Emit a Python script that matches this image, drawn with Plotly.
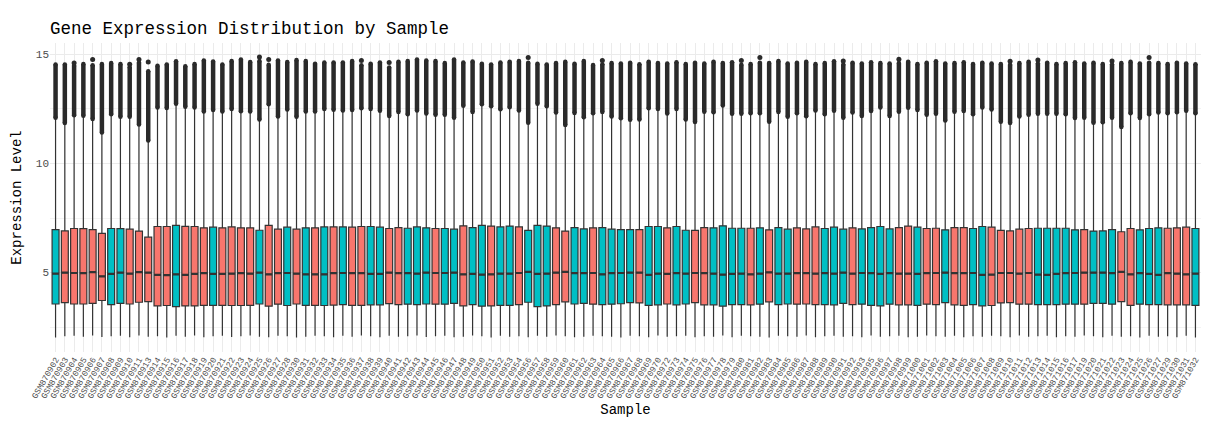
import plotly.graph_objects as go

# Prover (x-axel), i ordning
samples = [
    "GSM870902", "GSM870903", "GSM870904", "GSM870905", "GSM870906", "GSM870907", "GSM870908", "GSM870909",
    "GSM870910", "GSM870911", "GSM870913", "GSM870914", "GSM870915", "GSM870916", "GSM870917", "GSM870918",
    "GSM870919", "GSM870920", "GSM870921", "GSM870922", "GSM870923", "GSM870924", "GSM870925", "GSM870926",
    "GSM870927", "GSM870928", "GSM870930", "GSM870931", "GSM870932", "GSM870933", "GSM870934", "GSM870935",
    "GSM870936", "GSM870937", "GSM870938", "GSM870939", "GSM870940", "GSM870941", "GSM870942", "GSM870943",
    "GSM870944", "GSM870945", "GSM870946", "GSM870947", "GSM870948", "GSM870949", "GSM870950", "GSM870951",
    "GSM870952", "GSM870953", "GSM870954", "GSM870956", "GSM870957", "GSM870958", "GSM870959", "GSM870960",
    "GSM870961", "GSM870962", "GSM870963", "GSM870964", "GSM870965", "GSM870966", "GSM870967", "GSM870968",
    "GSM870969", "GSM870970", "GSM870972", "GSM870973", "GSM870974", "GSM870975", "GSM870976", "GSM870977",
    "GSM870978", "GSM870979", "GSM870980", "GSM870981", "GSM870982", "GSM870983", "GSM870984", "GSM870985",
    "GSM870986", "GSM870987", "GSM870988", "GSM870989", "GSM870990", "GSM870991", "GSM870992", "GSM870993",
    "GSM870995", "GSM870996", "GSM870997", "GSM870998", "GSM870999", "GSM871000", "GSM871001", "GSM871002",
    "GSM871003", "GSM871004", "GSM871005", "GSM871006", "GSM871007", "GSM871008", "GSM871009", "GSM871010",
    "GSM871011", "GSM871012", "GSM871013", "GSM871014", "GSM871015", "GSM871016", "GSM871017", "GSM871019",
    "GSM871020", "GSM871021", "GSM871022", "GSM871023", "GSM871024", "GSM871025", "GSM871026", "GSM871027",
    "GSM871029", "GSM871030", "GSM871031", "GSM871032",
]

# Grupp per prov (A = röd, B = turkos)
group = [
    "B", "A", "A", "A", "A", "A", "B", "B", "A", "A",
    "A", "A", "A", "B", "A", "A", "A", "B", "A", "A",
    "A", "A", "B", "A", "A", "B", "A", "B", "A", "B",
    "A", "B", "A", "A", "B", "B", "A", "A", "B", "B",
    "B", "A", "B", "B", "A", "B", "B", "A", "B", "B",
    "A", "B", "B", "B", "A", "A", "B", "B", "A", "B",
    "B", "B", "B", "A", "B", "B", "A", "B", "B", "A",
    "A", "B", "B", "B", "B", "A", "B", "A", "B", "B",
    "A", "A", "A", "B", "B", "B", "A", "B", "B", "B",
    "B", "A", "A", "B", "A", "A", "B", "A", "A", "B",
    "B", "A", "A", "A", "A", "A", "B", "B", "B", "B",
    "B", "A", "B", "B", "B", "A", "A", "B", "B", "B",
    "A", "A", "A", "B",
]

q1 = [
    3.56, 3.62, 3.56, 3.56, 3.59, 3.72, 3.53, 3.59, 3.56, 3.64,
    3.67, 3.47, 3.49, 3.44, 3.47, 3.47, 3.50, 3.50, 3.50, 3.49,
    3.49, 3.50, 3.56, 3.46, 3.55, 3.49, 3.56, 3.50, 3.50, 3.49,
    3.51, 3.53, 3.50, 3.50, 3.52, 3.52, 3.58, 3.53, 3.55, 3.53,
    3.56, 3.55, 3.55, 3.59, 3.47, 3.53, 3.46, 3.47, 3.50, 3.50,
    3.53, 3.64, 3.44, 3.47, 3.53, 3.66, 3.56, 3.59, 3.55, 3.53,
    3.55, 3.57, 3.62, 3.61, 3.50, 3.52, 3.56, 3.52, 3.56, 3.62,
    3.52, 3.52, 3.46, 3.53, 3.53, 3.52, 3.55, 3.66, 3.53, 3.56,
    3.55, 3.56, 3.53, 3.53, 3.52, 3.59, 3.53, 3.55, 3.50, 3.47,
    3.55, 3.52, 3.52, 3.50, 3.55, 3.53, 3.62, 3.52, 3.50, 3.53,
    3.47, 3.49, 3.61, 3.62, 3.55, 3.55, 3.53, 3.53, 3.53, 3.55,
    3.55, 3.55, 3.59, 3.59, 3.55, 3.67, 3.50, 3.55, 3.53, 3.53,
    3.52, 3.52, 3.52, 3.50,
]

median = [
    4.95, 5.00, 4.98, 4.97, 5.02, 4.83, 4.94, 5.00, 4.95, 5.02,
    5.00, 4.89, 4.88, 4.92, 4.89, 4.94, 4.97, 4.94, 4.94, 4.95,
    4.97, 4.95, 5.00, 4.92, 4.97, 4.98, 4.95, 4.92, 4.92, 4.92,
    4.97, 4.98, 4.97, 4.97, 4.94, 4.94, 5.00, 4.97, 4.97, 4.95,
    5.00, 4.98, 4.98, 5.00, 4.92, 4.94, 4.91, 4.92, 4.95, 4.95,
    4.98, 5.03, 4.94, 4.95, 5.00, 5.03, 4.97, 4.97, 4.98, 4.92,
    4.97, 4.98, 5.00, 5.00, 4.89, 4.95, 4.94, 4.97, 4.95, 4.98,
    4.97, 4.95, 4.91, 4.94, 4.95, 4.92, 4.95, 5.01, 4.95, 4.95,
    4.97, 4.97, 4.95, 4.97, 4.95, 5.00, 4.95, 4.98, 4.97, 4.94,
    4.97, 4.95, 4.95, 4.94, 4.97, 4.98, 5.00, 4.97, 4.97, 4.98,
    4.89, 4.91, 4.98, 4.98, 4.95, 4.98, 4.91, 4.89, 4.94, 4.97,
    4.98, 5.00, 5.00, 5.00, 4.97, 5.03, 4.92, 4.97, 4.94, 4.89,
    4.97, 4.95, 4.92, 4.95,
]

q3 = [
    6.97, 6.91, 7.02, 7.01, 6.97, 6.80, 7.02, 7.01, 6.99, 6.90,
    6.62, 7.11, 7.11, 7.16, 7.12, 7.11, 7.05, 7.08, 7.05, 7.09,
    7.05, 7.05, 6.94, 7.16, 6.99, 7.08, 6.99, 7.05, 7.05, 7.09,
    7.09, 7.09, 7.08, 7.11, 7.11, 7.08, 7.02, 7.06, 7.03, 7.09,
    7.05, 7.02, 7.02, 6.99, 7.14, 7.06, 7.16, 7.13, 7.09, 7.13,
    7.09, 6.93, 7.16, 7.13, 7.05, 6.90, 7.06, 7.00, 7.05, 7.06,
    6.99, 6.97, 6.97, 6.97, 7.11, 7.11, 7.05, 7.11, 6.94, 6.93,
    7.06, 7.05, 7.14, 7.03, 7.03, 7.03, 7.05, 6.96, 7.06, 6.99,
    7.05, 7.00, 7.09, 7.02, 7.08, 6.99, 7.05, 7.00, 7.06, 7.11,
    7.00, 7.06, 7.13, 7.08, 7.02, 7.03, 6.96, 7.06, 7.06, 7.02,
    7.11, 7.08, 6.93, 6.91, 6.99, 7.02, 7.03, 7.03, 7.03, 7.03,
    6.96, 6.97, 6.90, 6.91, 6.97, 6.87, 7.02, 6.96, 7.02, 7.05,
    7.03, 7.05, 7.08, 7.02,
]

# Nedre morrhår (min)
whisker_low = [
    2.02, 2.08, 2.10, 2.06, 2.12, 2.05, 2.08, 2.10, 2.04, 2.12,
    2.06, 2.08, 2.02, 2.10, 2.06, 2.12, 2.04, 2.08, 2.10, 2.05,
    2.08, 2.12, 2.06, 2.04, 2.10, 2.08, 2.02, 2.06, 2.10, 2.08,
    2.04, 2.10, 2.06, 2.12, 2.08, 2.04, 2.10, 2.06, 2.08, 2.12,
    2.05, 2.08, 2.10, 2.04, 2.06, 2.12, 2.08, 2.02, 2.10, 2.06,
    2.08, 2.04, 2.10, 2.06, 2.12, 2.08, 2.04, 2.06, 2.10, 2.08,
    2.06, 2.02, 2.10, 2.08, 2.04, 2.12, 2.06, 2.08, 2.10, 2.04,
    2.08, 2.06, 2.12, 2.04, 2.10, 2.08, 2.06, 2.02, 2.10, 2.08,
    2.06, 2.12, 2.04, 2.08, 2.10, 2.06, 2.08, 2.04, 2.12, 2.06,
    2.08, 2.10, 2.04, 2.06, 2.12, 2.08, 2.06, 2.10, 2.04, 2.08,
    2.06, 2.10, 2.08, 2.04, 2.12, 2.06, 2.08, 2.10, 2.04, 2.08,
    2.06, 2.12, 2.08, 2.04, 2.10, 2.06, 2.08, 2.02, 2.10, 2.06,
    2.08, 2.04, 2.10, 2.02,
]

# Övre morrhår (där outliers börjar)
whisker_high = [
    12.09, 11.85, 12.21, 12.19, 12.04, 11.42, 12.26, 12.14, 12.14, 11.79,
    11.05, 12.57, 12.54, 12.74, 12.60, 12.57, 12.38, 12.45, 12.38, 12.49,
    12.39, 12.38, 12.01, 12.71, 12.15, 12.47, 12.14, 12.38, 12.38, 12.49,
    12.46, 12.43, 12.45, 12.53, 12.50, 12.42, 12.18, 12.36, 12.25, 12.43,
    12.29, 12.23, 12.23, 12.09, 12.65, 12.36, 12.71, 12.62, 12.48, 12.58,
    12.43, 11.87, 12.74, 12.62, 12.33, 11.76, 12.31, 12.12, 12.30, 12.36,
    12.15, 12.07, 12.00, 12.01, 12.53, 12.50, 12.29, 12.50, 12.01, 11.90,
    12.37, 12.35, 12.66, 12.28, 12.28, 12.30, 12.30, 11.91, 12.36, 12.14,
    12.30, 12.16, 12.43, 12.26, 12.42, 12.09, 12.33, 12.18, 12.40, 12.57,
    12.18, 12.37, 12.55, 12.45, 12.23, 12.28, 11.97, 12.37, 12.40, 12.26,
    12.57, 12.47, 11.91, 11.85, 12.15, 12.23, 12.28, 12.28, 12.28, 12.25,
    12.08, 12.10, 11.87, 11.89, 12.10, 11.67, 12.30, 12.08, 12.26, 12.33,
    12.30, 12.35, 12.42, 12.30,
]

# Högsta täta outlier-värde per prov
outlier_max = [
    14.54, 14.54, 14.48, 14.56, 14.50, 14.56, 14.60, 14.56, 14.42, 14.62,
    14.23, 14.48, 14.54, 14.68, 14.45, 14.56, 14.72, 14.67, 14.54, 14.70,
    14.76, 14.65, 14.70, 14.52, 14.72, 14.65, 14.74, 14.69, 14.57, 14.63,
    14.63, 14.63, 14.69, 14.50, 14.57, 14.63, 14.40, 14.66, 14.69, 14.76,
    14.72, 14.69, 14.60, 14.76, 14.63, 14.67, 14.57, 14.54, 14.63, 14.66,
    14.69, 14.62, 14.57, 14.54, 14.60, 14.66, 14.57, 14.69, 14.51, 14.55,
    14.60, 14.58, 14.62, 14.55, 14.66, 14.60, 14.58, 14.64, 14.56, 14.62,
    14.58, 14.66, 14.60, 14.64, 14.52, 14.56, 14.62, 14.60, 14.70, 14.58,
    14.62, 14.66, 14.56, 14.60, 14.68, 14.54, 14.62, 14.58, 14.64, 14.60,
    14.58, 14.60, 14.66, 14.56, 14.62, 14.68, 14.58, 14.60, 14.64, 14.56,
    14.62, 14.58, 14.56, 14.52, 14.60, 14.66, 14.58, 14.62, 14.56, 14.60,
    14.64, 14.58, 14.62, 14.56, 14.54, 14.60, 14.66, 14.58, 14.62, 14.60,
    14.56, 14.62, 14.58, 14.55,
]

# Enstaka outliers ovanför
extra_sample = ["GSM870904", "GSM870906", "GSM870910", "GSM870911", "GSM870913", "GSM870925",
                "GSM870926", "GSM870937", "GSM870940", "GSM870956", "GSM870964", "GSM870980",
                "GSM870982", "GSM870991", "GSM870998", "GSM871010", "GSM871013", "GSM871022",
                "GSM871026"]
extra_value = [14.60, 14.76, 14.55, 14.76, 14.65, 14.88,
               14.76, 14.72, 14.63, 14.85, 14.72, 14.72,
               14.86, 14.70, 14.78, 14.68, 14.74, 14.70,
               14.86]

colors = {"A": "#F8766D", "B": "#00BFC4"}
mono = "Liberation Mono, Courier New, monospace"
dark = "#333333"

fig = go.Figure()

# Boxar per grupp
for g in ["A", "B"]:
    idx = [i for i, v in enumerate(group) if v == g]
    fig.add_trace(go.Box(
        x=[samples[i] for i in idx],
        q1=[q1[i] for i in idx],
        median=[median[i] for i in idx],
        q3=[q3[i] for i in idx],
        lowerfence=[whisker_low[i] for i in idx],
        upperfence=[whisker_high[i] for i in idx],
        fillcolor=colors[g],
        line=dict(color=dark, width=1.2),
        width=0.75, whiskerwidth=0,
        boxpoints=False, hoverinfo="skip",
        name=g, showlegend=False,
    ))

# Tjockare medianlinje (som i ggplot)
fig.add_trace(go.Box(
    x=samples, q1=median, median=median, q3=median,
    lowerfence=median, upperfence=median,
    fillcolor="rgba(0,0,0,0)", line=dict(color=dark, width=2.2),
    width=0.75, whiskerwidth=0, boxpoints=False, hoverinfo="skip",
    showlegend=False,
))

# Täta outliers som tjock stapel
bx, by = [], []
for s, lo, hi in zip(samples, whisker_high, outlier_max):
    bx += [s, s, None]
    by += [lo, hi, None]
fig.add_trace(go.Scatter(
    x=bx, y=by, mode="lines+markers",
    line=dict(color="#2a2a2a", width=4.5),
    marker=dict(color="#2a2a2a", size=4.5),
    showlegend=False, hoverinfo="skip",
))

fig.add_trace(go.Scatter(
    x=extra_sample, y=extra_value, mode="markers",
    marker=dict(color="#2a2a2a", size=5),
    showlegend=False, hoverinfo="skip",
))

# Sidan har 8px marginal i body, så figuren görs lite mindre
fig.update_layout(
    width=1198, height=410,
    margin=dict(l=42, r=5, t=35, b=66),
    paper_bgcolor="white", plot_bgcolor="white",
    boxmode="overlay",
    font=dict(family=mono, color="#000000"),
    title=dict(text="Gene Expression Distribution by Sample",
               font=dict(family=mono, size=17.5, color="#000000"),
               x=0, xref="paper", xanchor="left",
               y=1 - 20 / 410, yref="container", yanchor="middle"),
    xaxis=dict(
        title=dict(text="Sample", font=dict(family=mono, size=14), standoff=6),
        categoryorder="array", categoryarray=samples,
        tickmode="array", tickvals=samples, ticktext=samples,
        range=[-0.6, len(samples) - 0.4],
        tickangle=-60, tickfont=dict(family=mono, size=8.5, color="#4D4D4D"),
        showgrid=True, gridcolor="#EBEBEB", gridwidth=1,
        zeroline=False, showline=False, ticks="", automargin=False,
    ),
    yaxis=dict(
        title=dict(text="Expression Level", font=dict(family=mono, size=14), standoff=10),
        range=[1.36, 15.52],
        tickvals=[5, 10, 15],
        tickfont=dict(family=mono, size=11, color="#4D4D4D"),
        showgrid=True, gridcolor="#EBEBEB", gridwidth=1,
        minor=dict(tick0=2.5, dtick=5, showgrid=True, gridcolor="#F3F3F3", gridwidth=0.6),
        zeroline=False, showline=False, ticks="", automargin=False,
    ),
)

fig.write_html("out.html")
